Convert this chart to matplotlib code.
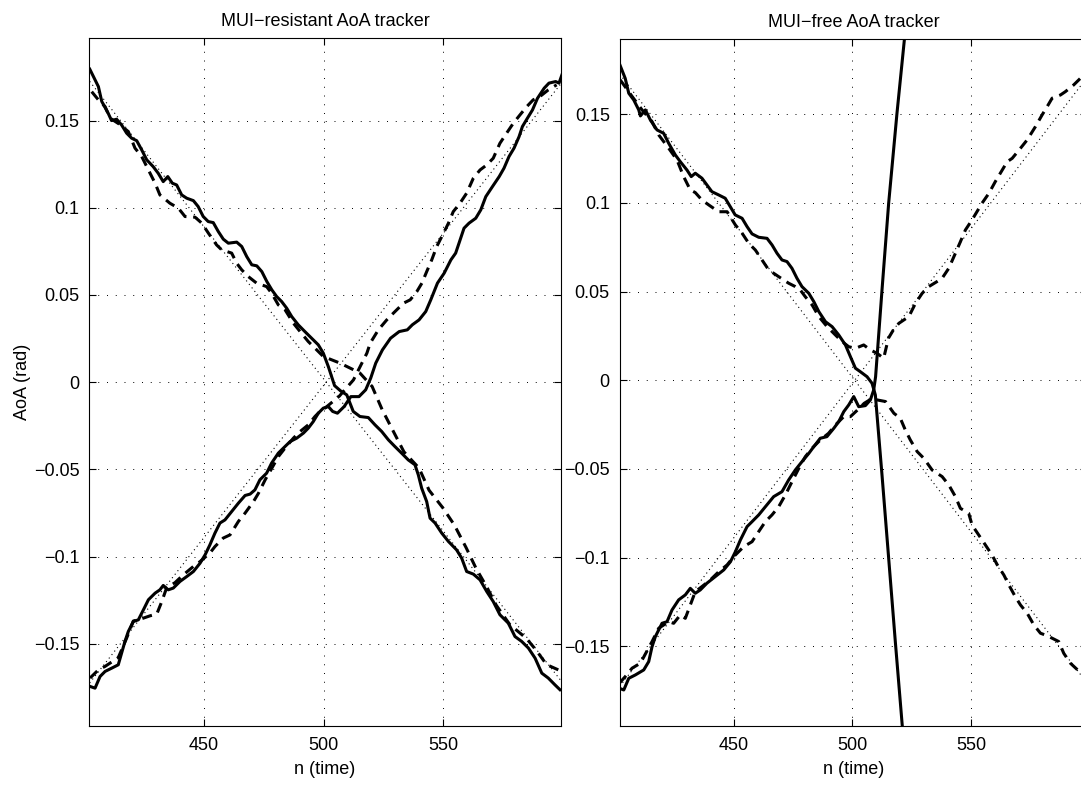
import matplotlib
matplotlib.use("Agg")
import matplotlib.pyplot as plt

plt.rcParams["font.family"] = ["Liberation Sans", "DejaVu Sans"]

# ---- data ----
# true AoA (dotted), same in both panels
true_n = [401, 601]
true_dn = [0.1745, -0.1745]
true_up = [-0.1745, 0.1745]

# left panel: MUI-resistant tracker
l_sol_dn_n = [402.2, 405.8, 407.2, 409.9, 411.3, 413.4, 415.5, 417.6, 419.7, 421.8, 423.9, 426.0, 428.7,
              430.8, 432.9, 434.8, 436.7, 438.5, 440.6, 442.7, 445.5, 447.5, 449.6, 451.7, 453.8, 455.9,
              458.0, 460.1, 463.6, 465.7, 467.8, 469.9, 472.0, 474.1, 476.2, 478.3, 480.3, 482.4, 484.5,
              486.6, 489.3, 492.1, 494.9, 497.7, 499.8, 501.9, 504.5, 507.0, 509.6, 512.3, 515.1, 518.6,
              521.4, 524.2, 527.0, 529.7, 532.5, 535.3, 538.1, 539.5, 540.9, 543.0, 544.4, 546.5, 549.3,
              552.1, 555.5, 557.6, 559.7, 562.5, 565.3, 568.1, 570.8, 573.6, 577.1, 579.9, 582.7, 585.5,
              588.3, 591.1, 593.8, 596.6, 598.7]
l_sol_dn = [0.1795, 0.1695, 0.161, 0.1542, 0.150, 0.1508, 0.1475, 0.1428, 0.1399, 0.1385, 0.1332, 0.1275,
            0.1236, 0.1198, 0.1150, 0.1179, 0.1141, 0.1131, 0.1074, 0.1055, 0.1041, 0.1007, 0.0950, 0.0921,
            0.0915, 0.0864, 0.0820, 0.0797, 0.0803, 0.0778, 0.0720, 0.0673, 0.0667, 0.0634, 0.0577, 0.0529,
            0.0491, 0.0462, 0.0424, 0.0376, 0.0329, 0.0290, 0.0252, 0.0214, 0.0166, 0.0089, -0.002, -0.005,
            -0.0073, -0.0168, -0.0197, -0.0203, -0.0245, -0.0283, -0.0331, -0.0369, -0.0407, -0.0446,
            -0.0474, -0.0532, -0.0608, -0.0685, -0.078, -0.0808, -0.0866, -0.0914, -0.0962, -0.1009,
            -0.1086, -0.1101, -0.1134, -0.1201, -0.1258, -0.1334, -0.1382, -0.1459, -0.1487, -0.1525,
            -0.1583, -0.1669, -0.1697, -0.1736, -0.1764]

l_sol_up_n = [402.3, 404.4, 406.5, 408.6, 411.4, 414.1, 415.5, 416.9, 418.3, 420.4, 422.5, 424.6, 426.7,
              429.5, 431.5, 432.9, 435.0, 437.1, 439.9, 442.7, 445.5, 448.3, 450.4, 452.4, 454.5, 456.6,
              458.7, 461.5, 464.3, 467.1, 469.2, 471.2, 473.3, 476.1, 478.2, 481.0, 483.8, 485.9, 488.7,
              491.5, 493.5, 495.6, 497.7, 499.8, 501.9, 503.7, 505.7, 508.5, 511.3, 514.7, 517.5, 519.6,
              521.7, 524.5, 527.9, 531.5, 534.9, 537.0, 539.8, 542.6, 544.7, 547.5, 550.3, 553.1, 555.1,
              556.5, 558.6, 560.7, 563.5, 565.6, 567.7, 570.5, 573.3, 575.3, 577.4, 579.5, 581.6, 583.0,
              585.1, 587.2, 589.3, 592.1, 594.1, 596.9, 598.3, 599.5]
l_sol_up = [-0.1745, -0.1755, -0.1688, -0.1659, -0.164, -0.1621, -0.1554, -0.1487, -0.143, -0.1373, -0.1363,
            -0.1306, -0.1248, -0.121, -0.1191, -0.1166, -0.1191, -0.1181, -0.1143, -0.1115, -0.1086, -0.1038,
            -0.099, -0.0933, -0.0866, -0.0808, -0.079, -0.0742, -0.0694, -0.065, -0.0642, -0.0618, -0.056,
            -0.0522, -0.0464, -0.0407, -0.0369, -0.0341, -0.0321, -0.0292, -0.0264, -0.0226, -0.0178,
            -0.0149, -0.014, -0.0168, -0.0178, -0.014, -0.0083, -0.0083, -0.0044, 0.0023, 0.0109, 0.0185,
            0.0252, 0.029, 0.03, 0.0329, 0.0357, 0.0405, 0.0472, 0.0568, 0.0625, 0.0701, 0.074, 0.0797,
            0.0883, 0.0912, 0.094, 0.0988, 0.1064, 0.1122, 0.1179, 0.1227, 0.1294, 0.1342, 0.1408, 0.1466,
            0.1514, 0.1561, 0.1628, 0.1686, 0.1715, 0.1724, 0.1715, 0.1762]

l_dash_dn_n = [403, 405.8, 408.6, 410.7, 414.5, 418.3, 421.1, 423.9, 426.7, 429.5, 431.5, 435.7, 439.2,
               442.0, 446.2, 449.0, 451.8, 455.2, 457.3, 461.5, 463.6, 465.7, 468.4, 471.9, 476.1, 478.2,
               481.0, 483.8, 487.3, 490.1, 493.5, 496.3, 499.8, 506.8, 512.4, 515.1, 520.2, 524.4, 528.6,
               533.5, 539.8, 544, 549.7, 554.6, 559.5, 563.7, 567.9, 572.1, 577.7, 584.7, 588.9, 593.1, 598]
l_dash_dn = [0.1666, 0.1619, 0.158, 0.1514, 0.148, 0.1437, 0.1342, 0.1294, 0.1217, 0.1141, 0.1074, 0.1026,
             0.0998, 0.095, 0.0946, 0.0912, 0.0854, 0.0787, 0.0759, 0.074, 0.0682, 0.0644, 0.0606, 0.0568,
             0.0548, 0.051, 0.0443, 0.0415, 0.0338, 0.029, 0.0233, 0.0195, 0.0147, 0.0109, 0.0071, 0.0052,
             -0.0025, -0.0158, -0.027, -0.04, -0.0493, -0.062, -0.072, -0.082, -0.095, -0.107, -0.117,
             -0.128, -0.139, -0.147, -0.154, -0.162, -0.165]

l_dash_up_n = [402.3, 405.8, 408.6, 414.1, 417.6, 420.4, 423.2, 427.4, 430.2, 432.3, 434.3, 437.8, 441.3,
               445.5, 448.3, 452.4, 454.5, 458, 460.8, 464.3, 467.1, 470.6, 472.7, 475.5, 478.3, 481.0,
               483.8, 487.3, 490.1, 493.5, 496.3, 498.4, 500.5, 506.5, 512.4, 516.6, 518, 519.4, 522.8,
               526.3, 529.1, 533.3, 536.1, 538.9, 541, 543, 545.1, 547.2, 550, 552.1, 554.1, 556.9, 559.7,
               562.5, 565.3, 568.1, 570.8, 573.6, 576.4, 579.2, 582, 584.8, 587.5, 590.3, 593.8, 597.3]
l_dash_up = [-0.1697, -0.165, -0.163, -0.158, -0.1468, -0.137, -0.136, -0.134, -0.133, -0.1258, -0.118,
             -0.115, -0.1105, -0.1057, -0.1029, -0.098, -0.0943, -0.0894, -0.0876, -0.0799, -0.0751,
             -0.0685, -0.0637, -0.056, -0.0493, -0.0427, -0.0378, -0.0321, -0.0283, -0.0245, -0.0197,
             -0.0168, -0.0149, -0.008, 0.0013, 0.0128, 0.0166, 0.0224, 0.03, 0.0357, 0.0396, 0.0453,
             0.0472, 0.052, 0.0568, 0.0634, 0.0701, 0.0778, 0.0854, 0.0912, 0.0978, 0.1026, 0.1084, 0.117,
             0.1217, 0.1246, 0.1284, 0.137, 0.1428, 0.1485, 0.1533, 0.158, 0.1619, 0.1638, 0.1676, 0.1705]

# right panel: MUI-free tracker
r_sol_dn_n = [401.9, 404.4, 405.9, 408, 410.1, 410.8, 412.9, 415, 417.8, 420.6, 422.7, 425.5, 427.6, 430.4,
              432.2, 433.9, 436.7, 438.8, 440.9, 443.7, 446.5, 448.6, 450.7, 453.6, 455.7, 457.8, 460.6,
              464.1, 466.2, 468.3, 470.4, 472.5, 474.6, 476.7, 478.8, 481.7, 483.8, 485.9, 488.7, 491.5,
              494.3, 497.1, 499.2, 501.3, 503.4, 506.2, 508.3, 509.7, 512.5, 515.3, 518.1, 521.0, 525]
r_sol_dn = [0.1787, 0.1702, 0.1618, 0.158, 0.1524, 0.149, 0.1524, 0.1467, 0.1411, 0.1392, 0.1336, 0.127,
            0.1232, 0.1185, 0.1148, 0.1167, 0.1139, 0.1101, 0.1063, 0.1045, 0.1026, 0.0979, 0.0932, 0.0913,
            0.0866, 0.0825, 0.0806, 0.08, 0.0763, 0.0716, 0.0678, 0.0669, 0.0631, 0.0575, 0.0528, 0.049,
            0.0443, 0.0387, 0.033, 0.0302, 0.0255, 0.0199, 0.0133, 0.0068, 0.0048, 0.002, -0.0017, -0.0083,
            -0.0534, -0.1003, -0.1473, -0.1943, -0.26]

r_sol_up_n = [401.9, 403.8, 405.9, 408.7, 412.2, 414.3, 415.7, 417.1, 419.9, 422, 424.1, 426.9, 429.7,
              431.8, 433.9, 436, 438.8, 442.3, 445.9, 448.7, 450.8, 452.9, 455.7, 457.8, 460.6, 463.4,
              466.9, 470.4, 473.2, 476, 478.8, 481.7, 483.8, 486.5, 489.3, 492.2, 494.3, 496.4, 498.5,
              500.6, 502.7, 505.5, 507.6, 509, 509.8, 512.5, 515.3, 518.8, 521.9, 526]
r_sol_up = [-0.1736, -0.1746, -0.168, -0.1661, -0.1633, -0.1586, -0.1502, -0.1445, -0.137, -0.1361, -0.1295,
            -0.1238, -0.121, -0.1173, -0.1201, -0.1182, -0.1144, -0.1107, -0.1069, -0.1023, -0.0966, -0.09,
            -0.0825, -0.0797, -0.0759, -0.0713, -0.0656, -0.0628, -0.0562, -0.0506, -0.0459, -0.0412,
            -0.0374, -0.0327, -0.0318, -0.0271, -0.0233, -0.0177, -0.0139, -0.0092, -0.0149, -0.0143,
            -0.0111, -0.0055, 0.002, 0.0509, 0.0998, 0.1505, 0.1918, 0.255]

r_dash_dn_n = [402.3, 407.3, 411.5, 415.7, 418.5, 422.7, 426.2, 429, 431.8, 433.9, 436.7, 439.6, 443.7,
               447.3, 450.8, 453.6, 456.4, 459.2, 462, 464.8, 469, 473.2, 476, 478.1, 480.2, 483.1, 485.9,
               489.4, 492.9, 495.7, 498.5, 501.3, 504.8, 507.6, 510.4, 513.2, 515.2, 517.3, 519.6, 523.8,
               526.6, 529.4, 532.2, 535.5, 537.8, 540.6, 543.4, 545.5, 547.6, 550.4, 554.6, 557.5, 560.2,
               562.3, 565.2, 567.3, 570.8, 573.6, 577.1, 579.9, 582, 584.1, 587.6, 589.7, 593.2, 596, 599]
r_dash_dn = [0.1693, 0.16, 0.1524, 0.1458, 0.1383, 0.1308, 0.1242, 0.1148, 0.1073, 0.1058, 0.1016, 0.0988,
             0.095, 0.095, 0.0875, 0.0829, 0.0772, 0.0734, 0.0678, 0.0622, 0.0584, 0.0547, 0.0528, 0.0509,
             0.0471, 0.0424, 0.0359, 0.0302, 0.0255, 0.0218, 0.0189, 0.018, 0.0199, 0.0171, 0.0152, 0.0124,
             0.0237, 0.0284, 0.0321, 0.0359, 0.0434, 0.049, 0.0528, 0.0555, 0.0575, 0.0631, 0.0716, 0.0781,
             0.0847, 0.0904, 0.0998, 0.1054, 0.112, 0.1167, 0.1232, 0.1251, 0.1308, 0.1355, 0.143, 0.1496,
             0.1542, 0.159, 0.1608, 0.1627, 0.1665, 0.1702, 0.172]

r_dash_up_n = [401.9, 404.4, 407.3, 410.8, 415.7, 418.5, 422.7, 424.8, 427.6, 429.7, 431.8, 433.9, 436.7,
               440.2, 443.8, 447.3, 450.1, 454.3, 457.8, 460.6, 463.4, 466.2, 469, 471.8, 474.6, 477.5,
               480.2, 483.1, 486.5, 490, 492.9, 496.4, 499.2, 502, 505, 508, 510.5, 514, 517.5, 520.2,
               522.3, 524.4, 527.3, 530.1, 533.6, 537.8, 540.6, 543.4, 545.5, 549, 550.4, 553.2, 556,
               558.8, 561, 563.8, 565.9, 568.6, 570.8, 573.6, 576.4, 579.2, 582, 584.1, 586.9, 589, 591.8,
               595, 599]
r_dash_up = [-0.1708, -0.1671, -0.1623, -0.1595, -0.1473, -0.1398, -0.1361, -0.137, -0.1323, -0.1342,
             -0.1267, -0.1192, -0.1163, -0.1126, -0.1079, -0.1041, -0.0994, -0.0938, -0.091, -0.0853,
             -0.0797, -0.0759, -0.0713, -0.0647, -0.0572, -0.0496, -0.0431, -0.0383, -0.0337, -0.0299,
             -0.0252, -0.0205, -0.0205, -0.017, -0.013, -0.0105, -0.0111, -0.012, -0.0186, -0.0214, -0.028,
             -0.0336, -0.0402, -0.044, -0.0506, -0.0543, -0.059, -0.0656, -0.0722, -0.075, -0.0816,
             -0.0872, -0.0928, -0.0985, -0.104, -0.1098, -0.1154, -0.122, -0.1267, -0.1313, -0.1379,
             -0.1426, -0.144, -0.1454, -0.1473, -0.1539, -0.1595, -0.1635, -0.168]

xticks = [450, 500, 550]
yticks = [-0.15, -0.1, -0.05, 0, 0.05, 0.1, 0.15]
ytick_labels = ["\u22120.15", "\u22120.1", "\u22120.05", "0", "0.05", "0.1", "0.15"]


def style_axes(ax, ylim, title):
    ax.set_xlim(402, 599)
    ax.set_ylim(*ylim)
    ax.set_xticks(xticks)
    ax.set_yticks(yticks)
    ax.set_yticklabels(ytick_labels)
    ax.tick_params(direction="in", top=True, right=True, length=5, width=0.8,
                   labelsize=13, pad=7, color="black")
    ax.tick_params(axis="x", pad=8)
    ax.grid(True, linestyle=(0, (1, 8)), color="black", linewidth=0.7)
    for s in ax.spines.values():
        s.set_linewidth(0.8)
    ax.set_title(title, fontsize=13, pad=9)
    ax.set_xlabel("n (time)", fontsize=13, labelpad=5)


def draw(ax, sol_dn, sol_up, dash_dn, dash_up):
    ax.plot(true_n, true_dn, color="black", lw=0.8, linestyle=(0, (1, 3)))
    ax.plot(true_n, true_up, color="black", lw=0.8, linestyle=(0, (1, 3)))
    for n, v in (dash_dn, dash_up):
        ax.plot(n, v, color="black", lw=2.2, dashes=(3.3, 2.2))
    for n, v in (sol_dn, sol_up):
        ax.plot(n, v, color="black", lw=2.2)


fig = plt.figure(figsize=(10.81, 7.86), dpi=100)

ax1 = fig.add_axes([89.3 / 1081, 60 / 786, 471.4 / 1081, 687.7 / 786])
draw(ax1, (l_sol_dn_n, l_sol_dn), (l_sol_up_n, l_sol_up),
     (l_dash_dn_n, l_dash_dn), (l_dash_up_n, l_dash_up))
style_axes(ax1, (-0.1972, 0.1972), "MUI\u2212resistant AoA tracker")
ax1.set_ylabel("AoA (rad)", fontsize=13, labelpad=2)

ax2 = fig.add_axes([619.5 / 1081, 60 / 786, 468 / 1081, 686.7 / 786])
draw(ax2, (r_sol_dn_n, r_sol_dn), (r_sol_up_n, r_sol_up),
     (r_dash_dn_n, r_dash_dn), (r_dash_up_n, r_dash_up))
style_axes(ax2, (-0.1949, 0.1922), "MUI\u2212free AoA tracker")

fig.savefig("out.png", dpi=100)
